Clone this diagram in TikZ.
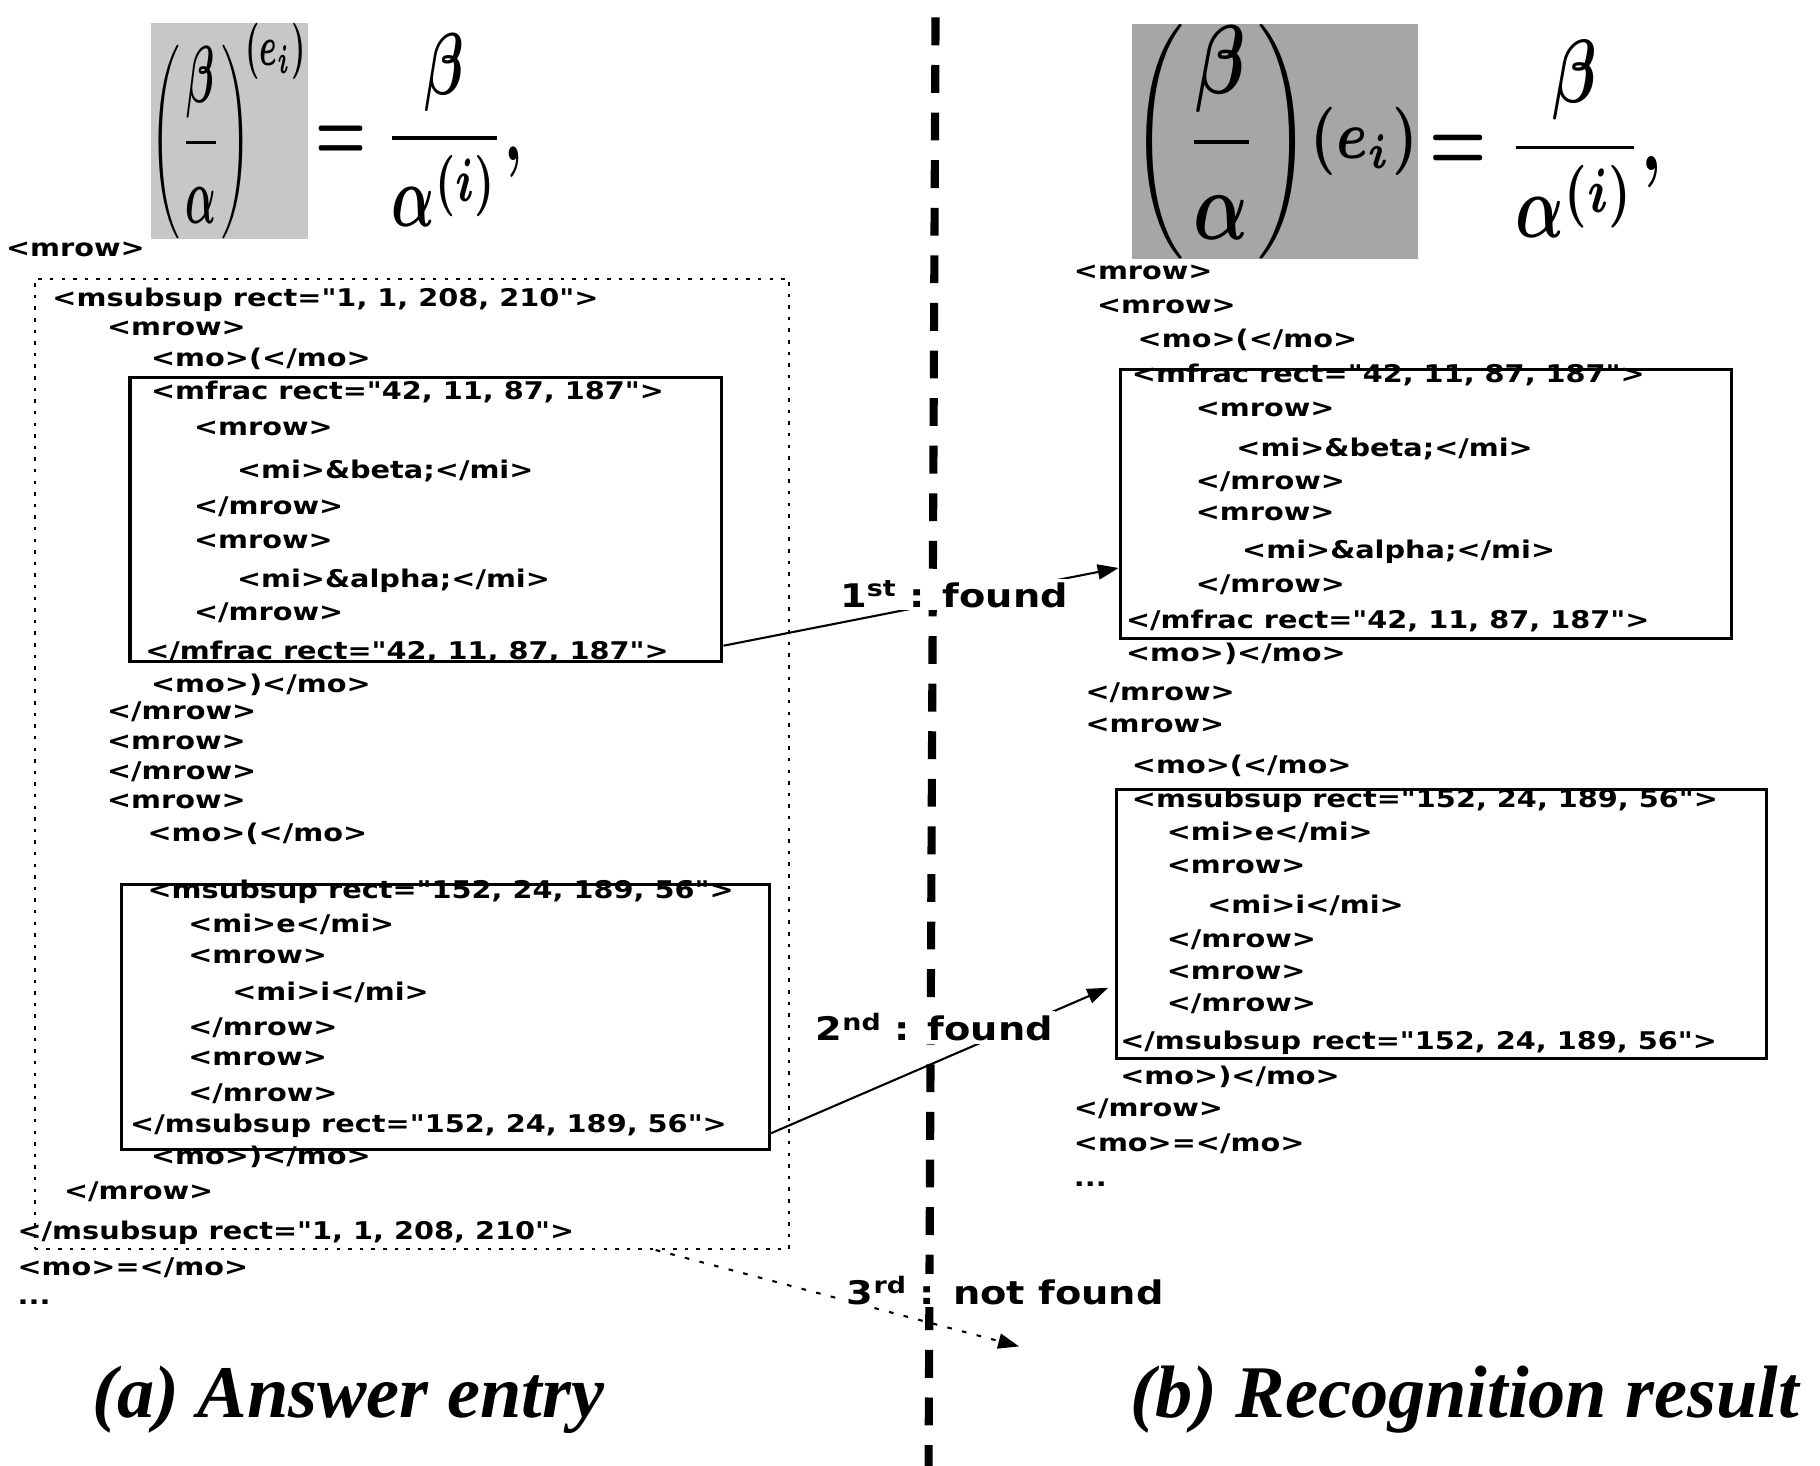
\documentclass[tikz,border=0pt]{standalone}
\usepackage{amsmath}
\usepackage{graphicx}
\usepackage{fontspec}
\usetikzlibrary{arrows.meta,calc}
\newfontfamily\xmlfam{DejaVu Sans}[FakeStretch=1.18]
\newfontfamily\capfam{Liberation Serif}
\begin{document}
\begin{tikzpicture}[x=1pt,y=-1pt,
  xml/.style={anchor=west,inner sep=0pt,font=\xmlfam\bfseries\fontsize{21}{22}\selectfont},
  solidbox/.style={draw,line width=2.6pt,inner sep=0pt},
  dotbox/.style={draw,line width=1.8pt,dash pattern=on 3pt off 7pt,inner sep=0pt},
  link/.style={line width=1.8pt,-{Triangle[length=18pt,width=13pt]}},
  missing/.style={link,dash pattern=on 4pt off 9pt},
  hit/.style={fill=white,inner sep=2pt,font=\xmlfam\bfseries\fontsize{28}{30}\selectfont},
  divider/.style={line width=7pt,dash pattern=on 24pt off 17pt},
  caption/.style={inner sep=0pt,font=\capfam\bfseries\itshape\fontsize{64}{70}\selectfont},
  grainA/.style={fill=black!22,inner sep=0pt},
  grainB/.style={fill=black!35,inner sep=0pt}
]
\useasboundingbox (0,0) rectangle (1568,1263);

% ---- equations ----
\node[grainA] (parA) at (197.5,113)
  {\resizebox*{135pt}{186pt}{\boldmath$\displaystyle\left(\frac{\beta}{\alpha}\right)^{\!(e_i)}$}};
\node[inner sep=0pt] (rhsA) at (361,112)
  {\resizebox*{178pt}{166pt}{\boldmath$\displaystyle=\frac{\beta}{\alpha^{(i)}},$}};
\node[grainB] (parB) at (1098.5,122)
  {\resizebox*{247pt}{202pt}{\boldmath$\displaystyle\left(\frac{\beta}{\alpha}\right)\!\vcenter{\hbox{$\scriptstyle(e_i)$}}$}};
\node[inner sep=0pt] (rhsB) at (1332,120)
  {\resizebox*{200pt}{170pt}{\boldmath$\displaystyle=\frac{\beta}{\alpha^{(i)}},$}};

% ---- divider ----
\coordinate (divtop) at (806,15);
\coordinate (divbot) at (800,1263);
\draw[divider] (divtop) -- (divbot);

% ---- answer entry (left) ----
\node[xml] (la1)  at (5,215)   {<mrow>};
\node[xml] (la2)  at (45,258)  {<msubsup rect="1, 1, 208, 210">};
\node[xml] (la3)  at (92,283)  {<mrow>};
\node[xml] (la4)  at (130,309) {<mo>(</mo>};
\node[xml] (la5)  at (130,338) {<mfrac rect="42, 11, 87, 187">};
\node[xml] (la6)  at (167,369) {<mrow>};
\node[xml] (la7)  at (204,406) {<mi>\&beta;</mi>};
\node[xml] (la8)  at (167,437) {</mrow>};
\node[xml] (la9)  at (167,466) {<mrow>};
\node[xml] (la10) at (204,500) {<mi>\&alpha;</mi>};
\node[xml] (la11) at (167,528) {</mrow>};
\node[xml] (la12) at (125,562) {</mfrac rect="42, 11, 87, 187">};
\node[xml] (la13) at (130,590) {<mo>)</mo>};
\node[xml] (la14) at (92,613)  {</mrow>};
\node[xml] (la15) at (92,640)  {<mrow>};
\node[xml] (la16) at (92,665)  {</mrow>};
\node[xml] (la17) at (92,690)  {<mrow>};
\node[xml] (la18) at (127,718) {<mo>(</mo>};
\node[xml] (la19) at (127,768) {<msubsup rect="152, 24, 189, 56">};
\node[xml] (la20) at (162,796) {<mi>e</mi>};
\node[xml] (la21) at (162,824) {<mrow>};
\node[xml] (la22) at (200,855) {<mi>i</mi>};
\node[xml] (la23) at (162,885) {</mrow>};
\node[xml] (la24) at (162,912) {<mrow>};
\node[xml] (la25) at (162,942) {</mrow>};
\node[xml] (la26) at (112,970) {</msubsup rect="152, 24, 189, 56">};
\node[xml] (la27) at (130,997) {<mo>)</mo>};
\node[xml] (la28) at (55,1027) {</mrow>};
\node[xml] (la29) at (15,1062) {</msubsup rect="1, 1, 208, 210">};
\node[xml] (la30) at (15,1092) {<mo>=</mo>};
\node[xml] (la31) at (15,1122) {...};

\node[dotbox,minimum width=650pt,minimum height=836pt] (frameA) at (355,658) {};
\node[solidbox,minimum width=510pt,minimum height=245pt] (boxA) at (367,447.5) {};
\node[solidbox,minimum width=558pt,minimum height=228pt] (boxB) at (384,876) {};

% ---- recognition result (right) ----
\node[xml] (lb1)  at (925,235)  {<mrow>};
\node[xml] (lb2)  at (945,264)  {<mrow>};
\node[xml] (lb3)  at (980,293)  {<mo>(</mo>};
\node[xml] (lb4)  at (975,323)  {<mfrac rect="42, 11, 87, 187">};
\node[xml] (lb5)  at (1030,353) {<mrow>};
\node[xml] (lb6)  at (1065,387) {<mi>\&beta;</mi>};
\node[xml] (lb7)  at (1030,415) {</mrow>};
\node[xml] (lb8)  at (1030,442) {<mrow>};
\node[xml] (lb9)  at (1070,475) {<mi>\&alpha;</mi>};
\node[xml] (lb10) at (1030,504) {</mrow>};
\node[xml] (lb11) at (970,535)  {</mfrac rect="42, 11, 87, 187">};
\node[xml] (lb12) at (970,563)  {<mo>)</mo>};
\node[xml] (lb13) at (935,597)  {</mrow>};
\node[xml] (lb14) at (935,625)  {<mrow>};
\node[xml] (lb15) at (975,660)  {<mo>(</mo>};
\node[xml] (lb16) at (975,690)  {<msubsup rect="152, 24, 189, 56">};
\node[xml] (lb17) at (1005,717) {<mi>e</mi>};
\node[xml] (lb18) at (1005,746) {<mrow>};
\node[xml] (lb19) at (1040,780) {<mi>i</mi>};
\node[xml] (lb20) at (1005,810) {</mrow>};
\node[xml] (lb21) at (1005,838) {<mrow>};
\node[xml] (lb22) at (1005,865) {</mrow>};
\node[xml] (lb23) at (965,898)  {</msubsup rect="152, 24, 189, 56">};
\node[xml] (lb24) at (965,928)  {<mo>)</mo>};
\node[xml] (lb25) at (925,955)  {</mrow>};
\node[xml] (lb26) at (925,985)  {<mo>=</mo>};
\node[xml] (lb27) at (925,1020) {...};

\node[solidbox,minimum width=527pt,minimum height=232pt] (boxC) at (1228.5,434) {};
\node[solidbox,minimum width=560pt,minimum height=232pt] (boxD) at (1242,796) {};

% ---- matching links ----
\coordinate (miss) at (878,1160);
\draw[link] ([yshift=15pt]boxA.south east) -- ([yshift=62pt]boxC.south west);
\draw[link] ([yshift=15pt]boxB.south east) -- ([xshift=-6pt,yshift=-55pt]boxD.west);
\draw[missing] ([xshift=70pt]frameA.south -| la29.east) -- (miss);

\node[hit] (f1) at (822,512)  {1\textsuperscript{st} : found};
\node[hit] (f2) at (805,885)  {2\textsuperscript{nd} : found};
\node[hit] (f3) at (866,1112) {3\textsuperscript{rd} : not found};

% ---- captions ----
\node[caption] (capA) at (300,1206)  {(a) Answer entry};
\node[caption] (capB) at (1262,1206) {(b) Recognition result};
\end{tikzpicture}
\end{document}
